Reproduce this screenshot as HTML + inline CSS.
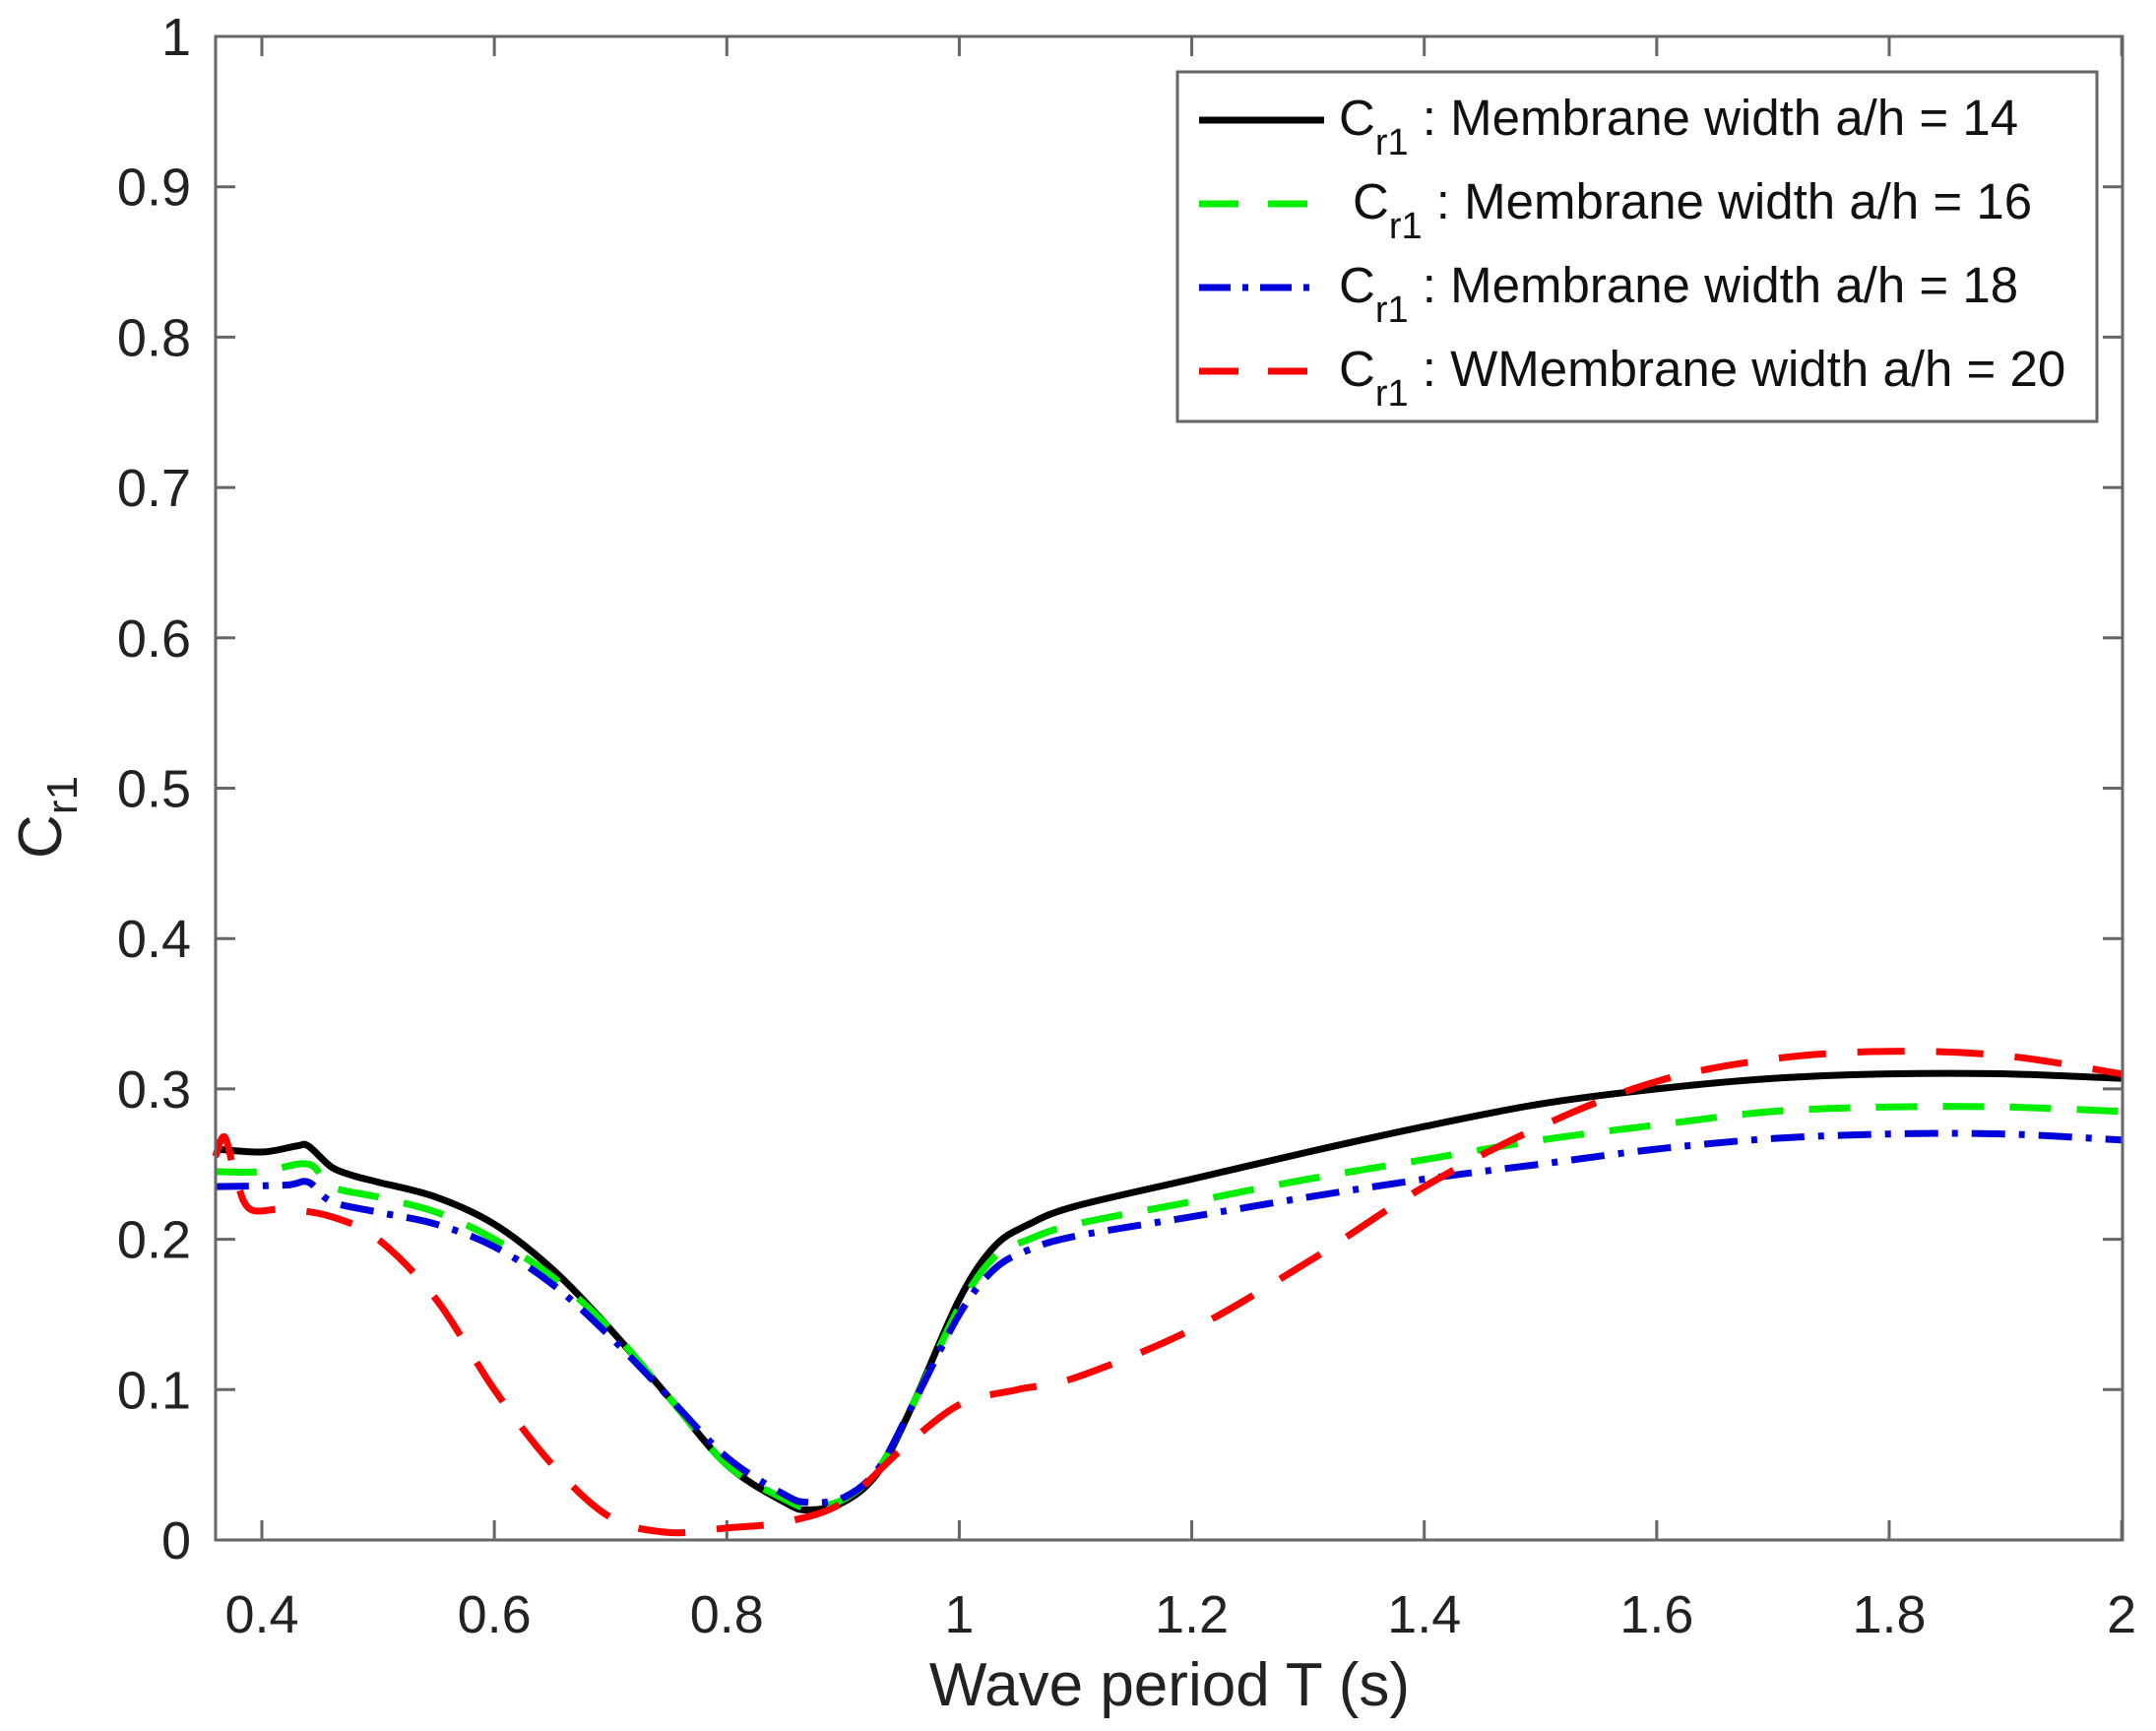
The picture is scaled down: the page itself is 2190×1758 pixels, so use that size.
<!DOCTYPE html>
<html><head><meta charset="utf-8"><style>
html,body{margin:0;padding:0;background:#fff;}
svg{display:block;font-family:"Liberation Sans",Arial,sans-serif;}
</style></head><body>
<svg id="s" width="2190" height="1758" viewBox="0 0 2190 1758" xmlns="http://www.w3.org/2000/svg">
<rect width="2190" height="1758" fill="#fff"/>
<g id="ticks" stroke="#666" stroke-width="3"></g>
<g id="curves" fill="none" stroke-linejoin="round"></g>
<rect x="219" y="37" width="1937" height="1527" fill="none" stroke="#666" stroke-width="3"/>
<g id="labels" font-size="54" fill="#222"></g>
<text x="1188" y="1732" font-size="62" text-anchor="middle" fill="#222">Wave period T (s)</text>
<g transform="translate(62,830) rotate(-90)"><text x="0" y="0" font-size="62" text-anchor="middle" fill="#222">C<tspan font-size="44" dy="16">r1</tspan></text></g>
<rect x="1196" y="73" width="934" height="355" fill="#fff" stroke="#666" stroke-width="3"/>
<g font-size="51" fill="#111">
<line x1="1218" y1="122" x2="1345" y2="122" stroke="#000" stroke-width="7"/>
<text x="1360" y="137">C<tspan font-size="38" dy="20">r1</tspan><tspan dy="-20"> : Membrane width a/h = 14</tspan></text>
<line x1="1218" y1="207" x2="1330" y2="207" stroke="#0e0" stroke-width="7" stroke-dasharray="40,30"/>
<text x="1374" y="222">C<tspan font-size="38" dy="20">r1</tspan><tspan dy="-20"> : Membrane width a/h = 16</tspan></text>
<line x1="1218" y1="292" x2="1342" y2="292" stroke="#00d" stroke-width="7" stroke-dasharray="32,12,6,12"/>
<text x="1360" y="307">C<tspan font-size="38" dy="20">r1</tspan><tspan dy="-20"> : Membrane width a/h = 18</tspan></text>
<line x1="1218" y1="377" x2="1330" y2="377" stroke="#f00" stroke-width="7" stroke-dasharray="40,30"/>
<text x="1360" y="392">C<tspan font-size="38" dy="20">r1</tspan><tspan dy="-20"> : WMembrane width a/h = 20</tspan></text>
</g>
</svg>
<script>
var NS="http://www.w3.org/2000/svg";
function X(t){return 266+(t-0.4)*1180.7;}
function Y(v){return 1564-v*1527;}
var tk=document.getElementById('ticks'),lb=document.getElementById('labels');
function el(p,n,a,txt){var e=document.createElementNS(NS,n);for(var k in a)e.setAttribute(k,a[k]);if(txt!==undefined)e.textContent=txt;p.appendChild(e);return e;}
var xt=[0.4,0.6,0.8,1,1.2,1.4,1.6,1.8,2],xl=["0.4","0.6","0.8","1","1.2","1.4","1.6","1.8","2"];
xt.forEach(function(t,i){var x=X(t);el(tk,'line',{x1:x,y1:1564,x2:x,y2:1544});el(tk,'line',{x1:x,y1:37,x2:x,y2:57});
el(lb,'text',{x:x,y:1658,'text-anchor':'middle'},xl[i]);});
for(var i=0;i<=10;i++){var v=i/10,y=Y(v);el(tk,'line',{x1:219,y1:y,x2:239,y2:y});el(tk,'line',{x1:2156,y1:y,x2:2136,y2:y});
el(lb,'text',{x:194,y:y+19,'text-anchor':'end'},i==10?"1":(i==0?"0":v.toFixed(1)));}
var data={
k:[[0.36,0.26],[0.40,0.258],[0.43,0.262],[0.44,0.262],[0.46,0.248],[0.48,0.242],[0.5,0.238],[0.55,0.228],[0.6,0.21],[0.65,0.18],[0.7,0.14],[0.75,0.095],[0.8,0.05],[0.85,0.025],[0.87,0.02],[0.9,0.025],[0.93,0.045],[0.96,0.09],[1.0,0.16],[1.03,0.195],[1.06,0.21],[1.1,0.222],[1.2,0.24],[1.3,0.258],[1.4,0.275],[1.5,0.29],[1.6,0.30],[1.7,0.307],[1.8,0.31],[1.9,0.31],[2.0,0.307]],
g:[[0.36,0.245],[0.4,0.245],[0.44,0.25],[0.46,0.235],[0.5,0.228],[0.55,0.218],[0.6,0.2],[0.65,0.175],[0.7,0.14],[0.75,0.095],[0.8,0.05],[0.85,0.027],[0.87,0.022],[0.9,0.027],[0.93,0.047],[0.96,0.09],[1.0,0.155],[1.03,0.188],[1.06,0.2],[1.1,0.21],[1.2,0.225],[1.3,0.24],[1.4,0.253],[1.5,0.266],[1.6,0.276],[1.7,0.285],[1.8,0.288],[1.9,0.288],[2.0,0.285]],
b:[[0.36,0.235],[0.42,0.236],[0.44,0.238],[0.46,0.225],[0.5,0.218],[0.55,0.21],[0.6,0.195],[0.65,0.17],[0.7,0.135],[0.75,0.095],[0.8,0.055],[0.85,0.03],[0.87,0.025],[0.9,0.028],[0.93,0.047],[0.96,0.09],[1.0,0.15],[1.03,0.18],[1.06,0.193],[1.1,0.202],[1.2,0.215],[1.3,0.228],[1.4,0.24],[1.5,0.25],[1.6,0.26],[1.7,0.267],[1.8,0.27],[1.9,0.27],[2.0,0.266]],
r:[[0.36,0.255],[0.368,0.268],[0.378,0.24],[0.39,0.22],[0.42,0.22],[0.46,0.215],[0.5,0.2],[0.55,0.16],[0.6,0.1],[0.65,0.05],[0.7,0.015],[0.75,0.005],[0.8,0.008],[0.85,0.012],[0.9,0.025],[0.95,0.06],[1.0,0.09],[1.05,0.1],[1.1,0.108],[1.2,0.14],[1.3,0.185],[1.4,0.235],[1.5,0.275],[1.6,0.305],[1.7,0.32],[1.8,0.325],[1.9,0.322],[2.0,0.31]]};
function path(pts){var P=pts.map(function(p){return [X(p[0]),Y(p[1])];});var d="M"+P[0][0]+","+P[0][1];
for(var i=0;i<P.length-1;i++){var p0=P[Math.max(0,i-1)],p1=P[i],p2=P[i+1],p3=P[Math.min(P.length-1,i+2)];
var c1=[p1[0]+(p2[0]-p0[0])/6,p1[1]+(p2[1]-p0[1])/6],c2=[p2[0]-(p3[0]-p1[0])/6,p2[1]-(p3[1]-p1[1])/6];
d+=" C"+c1[0].toFixed(1)+","+c1[1].toFixed(1)+" "+c2[0].toFixed(1)+","+c2[1].toFixed(1)+" "+p2[0].toFixed(1)+","+p2[1].toFixed(1);}return d;}
var cv=document.getElementById('curves');
el(cv,'path',{d:path(data.k),stroke:'#000','stroke-width':7});
el(cv,'path',{d:path(data.g),stroke:'#0e0','stroke-width':7,'stroke-dasharray':'42,26'});
el(cv,'path',{d:path(data.b),stroke:'#00d','stroke-width':7,'stroke-dasharray':'34,14,6,14'});
el(cv,'path',{d:path(data.r),stroke:'#f00','stroke-width':7,'stroke-dasharray':'48,32'});
</script>
</body></html>
